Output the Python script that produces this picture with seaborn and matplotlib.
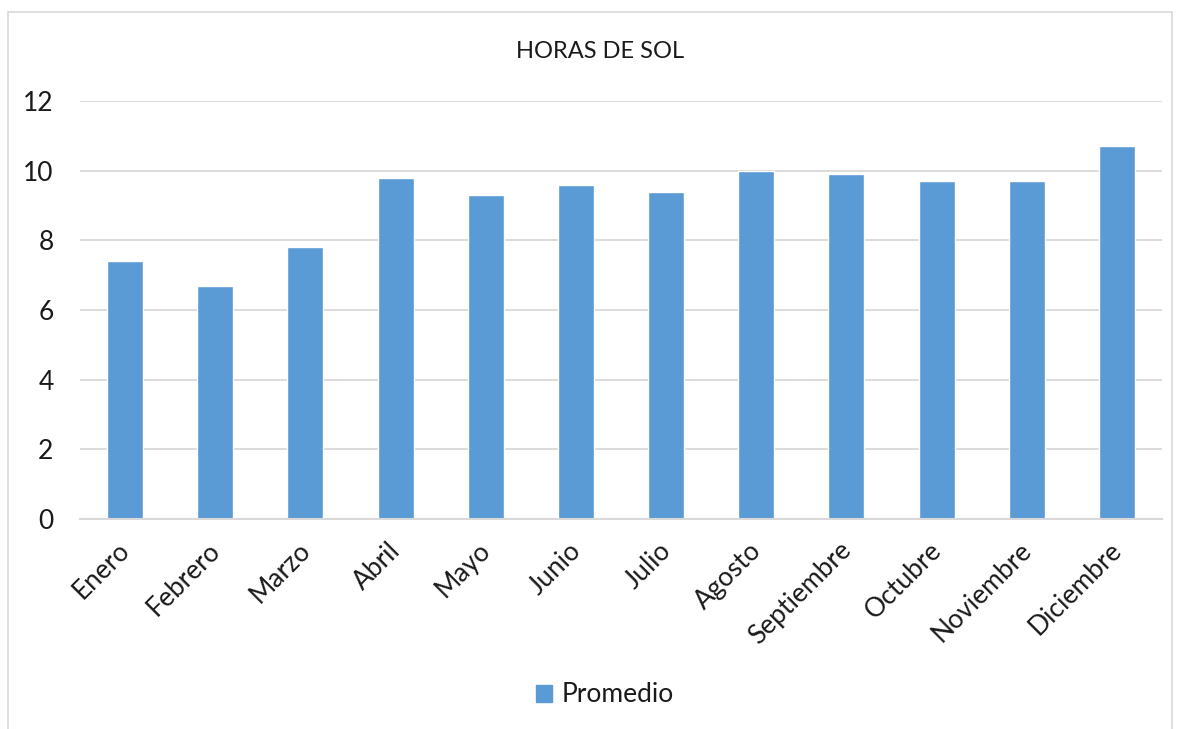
import pandas as pd
import matplotlib.pyplot as plt
import matplotlib.transforms as mtransforms
import seaborn as sns
from matplotlib.patches import Rectangle, Patch

# Data
meses = ['Enero', 'Febrero', 'Marzo', 'Abril', 'Mayo', 'Junio', 'Julio',
         'Agosto', 'Septiembre', 'Octubre', 'Noviembre', 'Diciembre']
promedio = [7.4, 6.7, 7.8, 9.8, 9.3, 9.6, 9.4, 10.0, 9.9, 9.7, 9.7, 10.7]

titulo = 'HORAS DE SOL'
serie = 'Promedio'
y_ticks = [0, 2, 4, 6, 8, 10, 12]

bar_color = '#5B9BD5'
grid_color = '#D9D9D9'
text_color = '#1a1a1a'

sns.set_style('white')
plt.rcParams['font.family'] = ['Lato', 'DejaVu Sans']

df = pd.DataFrame({'mes': meses, 'horas': promedio})

fig = plt.figure(figsize=(11.8, 7.29), dpi=100)

# chart border like the Excel chart area
fig.patches.append(Rectangle((8 / 1180, -0.05), 1164 / 1180, 1 - 12 / 729 + 0.05,
                             transform=fig.transFigure, fill=False,
                             edgecolor=grid_color, linewidth=1.2))

ax = fig.add_axes([80 / 1180, 210 / 729, 1082 / 1180, 418 / 729])
sns.barplot(data=df, x='mes', y='horas', order=meses, color=bar_color,
            width=0.4, saturation=1, ax=ax)

ax.set_ylim(0, 12)
ax.set_yticks(y_ticks)
ax.set_xlim(-0.5, len(meses) - 0.5)
ax.yaxis.grid(True, color=grid_color, linewidth=1.3)
ax.set_axisbelow(True)
for side in ['top', 'right', 'left']:
    ax.spines[side].set_visible(False)
ax.spines['bottom'].set_color(grid_color)
ax.spines['bottom'].set_linewidth(1.5)
ax.set_xlabel('')
ax.set_ylabel('')

ax.tick_params(axis='y', length=0, pad=19, labelsize=19, labelcolor=text_color)
ax.tick_params(axis='x', length=0, pad=12, labelsize=19, labelcolor=text_color)
shift = mtransforms.ScaledTranslation(-8 / 100, -2 / 100, fig.dpi_scale_trans)
for lab in ax.get_xticklabels():
    lab.set_rotation(45)
    lab.set_ha('right')
    lab.set_va('top')
    lab.set_rotation_mode('anchor')
    lab.set_transform(lab.get_transform() + shift)

fig.text(600 / 1180, 1 - 52 / 729, titulo, ha='center', va='center',
         fontsize=17, color=text_color)

fig.legend(handles=[Patch(color=bar_color, label=serie)], loc='center',
           bbox_to_anchor=(605 / 1180, 1 - 695 / 729), frameon=False,
           fontsize=19, handlelength=0.6, handleheight=0.6, handletextpad=0.4,
           labelcolor=text_color)

fig.savefig('out.png', dpi=100)
plt.close(fig)
